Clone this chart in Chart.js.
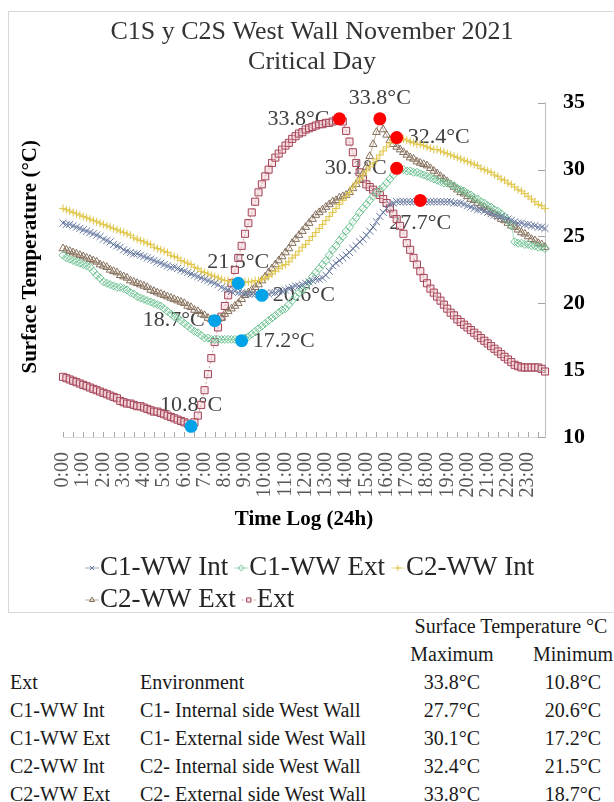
<!DOCTYPE html>
<html lang="en">
<head>
<meta charset="utf-8">
<title>C1S y C2S West Wall November 2021 - Critical Day</title>
<script src="https://cdn.jsdelivr.net/npm/chart.js@4.4.1/dist/chart.umd.min.js"></script>
<style>
  html, body { margin: 0; padding: 0; background: #fff; }
  body { position: relative; width: 614px; height: 802px; overflow: hidden; font-family: "Liberation Serif", "Times New Roman", serif; }
  #chartBox { position: absolute; left: 8px; top: 11px; width: 640px; height: 600px; border: 1px solid #d9d9d9; }
  #chart { display: block; }
  #summary { position: absolute; left: 10px; top: 612px; width: 622px; border-collapse: collapse; table-layout: fixed; font-size: 20px; color: #1a1a1a; }
  #summary td { padding: 0; height: 28px; line-height: 28px; white-space: nowrap; }
  #summary td.num { text-align: center; }
</style>
</head>
<body>
<div id="chartBox"><canvas id="chart" width="606" height="600"></canvas></div>
<table id="summary">
  <colgroup><col style="width:130px"><col style="width:250px"><col style="width:124px"><col style="width:118px"></colgroup>
  <thead>
    <tr><td></td><td></td><td class="num" colspan="2">Surface Temperature °C</td></tr>
    <tr><td></td><td></td><td class="num">Maximum</td><td class="num">Minimum</td></tr>
  </thead>
  <tbody id="summaryBody"></tbody>
</table>
<script>
// Time axis: one reading every 10 minutes, labels shown on the hour
const hourLabels = ['0:00','1:00','2:00','3:00','4:00','5:00','6:00','7:00','8:00','9:00','10:00','11:00',
                    '12:00','13:00','14:00','15:00','16:00','17:00','18:00','19:00','20:00','21:00','22:00','23:00'];
const minuteSteps = ['00','10','20','30','40','50'];

// Surface temperatures (°C), one row per hour
const c1Int = [
  26.0,25.9,25.9,25.8,25.7,25.6, 25.5,25.4,25.3,25.2,25.1,25.0, 24.8,24.7,24.6,24.4,24.3,24.2,
  24.0,23.9,23.8,23.7,23.7,23.6, 23.5,23.4,23.3,23.2,23.1,23.0, 22.9,22.8,22.7,22.7,22.6,22.5,
  22.4,22.3,22.2,22.1,22.0,21.9, 21.8,21.7,21.6,21.5,21.4,21.2, 21.1,21.0,20.9,20.9,20.8,20.8,
  20.7,20.7,20.7,20.7,20.7,20.6, 20.7,20.7,20.8,20.8,20.9,20.9, 21.0,21.1,21.2,21.3,21.3,21.4,
  21.5,21.6,21.7,21.8,21.8,21.9, 22.1,22.4,22.8,23.0,23.2,23.4, 23.6,23.8,24.1,24.3,24.6,24.8,
  25.1,25.4,25.7,26.1,26.5,26.8, 27.1,27.4,27.5,27.6,27.6,27.6, 27.6,27.6,27.6,27.6,27.7,27.6,
  27.6,27.6,27.6,27.6,27.6,27.6, 27.6,27.6,27.5,27.5,27.5,27.4, 27.3,27.2,27.1,27.0,27.0,26.9,
  26.8,26.7,26.6,26.5,26.5,26.4, 26.3,26.2,26.1,26.0,26.0,25.9, 25.9,25.8,25.8,25.7,25.7,25.6
];
const c1Ext = [
  23.6,23.4,23.3,23.2,23.1,23.0, 22.9,22.8,22.7,22.4,22.1,21.9, 21.6,21.5,21.4,21.3,21.2,21.2,
  21.1,21.0,20.8,20.7,20.5,20.4, 20.3,20.2,20.1,20.0,19.9,19.8, 19.6,19.4,19.2,19.0,18.9,18.7,
  18.5,18.3,18.1,17.9,17.8,17.6, 17.4,17.4,17.3,17.3,17.3,17.3, 17.3,17.3,17.3,17.3,17.3,17.2,
  17.4,17.5,17.7,17.9,18.1,18.3, 18.5,18.7,18.9,19.1,19.3,19.5, 19.6,19.9,20.2,20.5,20.8,21.0,
  21.3,21.6,22.0,22.3,22.6,22.9, 23.2,23.6,24.0,24.3,24.7,25.0, 25.4,25.7,26.1,26.4,26.8,27.1,
  27.4,27.7,28.0,28.3,28.5,28.7, 29.0,29.3,29.6,30.1,30.0,30.0, 29.9,29.9,29.8,29.8,29.7,29.6,
  29.5,29.4,29.3,29.2,29.1,29.0, 29.0,28.9,28.8,28.6,28.5,28.4, 28.2,28.1,27.9,27.8,27.6,27.5,
  27.3,27.2,27.0,26.9,26.7,26.5, 26.2,25.8,24.6,24.5,24.5,24.4, 24.4,24.3,24.3,24.2,24.2,24.1
];
const c2Int = [
  27.1,27.0,26.9,26.8,26.7,26.6, 26.5,26.4,26.3,26.2,26.1,26.0, 25.9,25.8,25.7,25.6,25.5,25.4,
  25.3,25.2,25.1,24.9,24.8,24.7, 24.6,24.5,24.4,24.2,24.1,24.0, 23.9,23.8,23.6,23.5,23.4,23.2,
  23.1,23.0,22.9,22.7,22.6,22.4, 22.3,22.2,22.1,22.0,21.9,21.8, 21.7,21.7,21.6,21.6,21.5,21.6,
  21.6,21.6,21.6,21.7,21.7,21.8, 21.9,22.0,22.2,22.4,22.6,22.8, 22.9,23.1,23.4,23.6,23.9,24.2,
  24.4,24.7,25.0,25.3,25.6,25.9, 26.2,26.5,26.8,27.1,27.4,27.7, 28.0,28.3,28.7,29.0,29.3,29.6,
  29.9,30.2,30.5,30.8,31.1,31.4, 31.7,32.0,32.2,32.4,32.3,32.3, 32.2,32.1,32.0,31.9,31.9,31.8,
  31.7,31.6,31.5,31.5,31.4,31.3, 31.2,31.1,31.0,30.9,30.8,30.7, 30.6,30.5,30.4,30.3,30.1,30.0,
  29.9,29.8,29.6,29.5,29.3,29.2, 29.0,28.9,28.7,28.5,28.4,28.2, 28.0,27.8,27.6,27.4,27.3,27.1
];
const c2Ext = [
  24.1,24.0,23.9,23.8,23.7,23.6, 23.5,23.4,23.3,23.2,23.1,22.9, 22.8,22.7,22.5,22.4,22.3,22.1,
  22.0,21.9,21.7,21.6,21.5,21.4, 21.3,21.2,21.0,20.9,20.8,20.7, 20.6,20.5,20.4,20.3,20.2,20.1,
  20.0,19.8,19.7,19.5,19.4,19.2, 19.1,18.9,18.8,18.7,18.8,18.9, 19.2,19.4,19.6,19.8,20.0,20.3,
  20.6,20.8,21.0,21.2,21.4,21.7, 22.0,22.3,22.6,22.9,23.2,23.5, 23.8,24.1,24.5,24.8,25.1,25.4,
  25.7,26.0,26.3,26.6,26.8,27.0, 27.2,27.4,27.6,27.7,27.9,28.0, 28.1,28.3,28.6,28.9,29.3,29.7,
  30.2,31.0,31.9,32.8,33.8,33.0, 32.6,32.2,31.9,31.7,31.5,31.3, 31.1,30.9,30.8,30.6,30.5,30.4,
  30.3,30.1,29.9,29.7,29.5,29.3, 29.1,28.9,28.7,28.5,28.3,28.2, 28.0,27.8,27.7,27.5,27.3,27.2,
  27.0,26.8,26.7,26.5,26.3,26.2, 26.0,25.8,25.7,25.5,25.3,25.2, 25.0,24.8,24.7,24.5,24.4,24.2
];
const extAir = [
  14.5,14.4,14.3,14.2,14.1,14.0, 13.9,13.8,13.7,13.6,13.5,13.4, 13.3,13.2,13.1,13.0,12.9,12.7,
  12.6,12.5,12.5,12.4,12.3,12.3, 12.2,12.1,12.0,11.9,11.9,11.8, 11.7,11.6,11.5,11.4,11.3,11.2,
  11.1,11.0,10.8,11.1,11.6,12.4, 13.5,14.7,15.9,17.1,18.2,19.0, 19.8,20.6,21.5,22.5,23.4,24.3,
  25.2,26.0,26.8,27.6,28.3,28.9, 29.5,30.0,30.5,30.9,31.2,31.5, 31.8,32.0,32.3,32.5,32.7,32.8,
  33.0,33.1,33.2,33.3,33.4,33.4, 33.5,33.5,33.6,33.7,33.8,33.6, 32.9,32.1,31.3,30.5,29.8,29.3,
  28.9,28.7,28.5,28.3,28.1,27.8, 27.5,27.1,26.7,26.3,25.8,25.2, 24.5,24.0,23.4,22.9,22.4,21.9,
  21.5,21.1,20.8,20.5,20.2,19.9, 19.6,19.3,19.1,18.8,18.6,18.4, 18.2,18.0,17.8,17.6,17.4,17.2,
  17.0,16.8,16.6,16.4,16.2,16.0, 15.8,15.6,15.4,15.3,15.2,15.2, 15.2,15.2,15.2,15.2,15.1,14.9
];

// Summary table text
const tableCodes = ['Ext', 'C1-WW Int', 'C1-WW Ext', 'C2-WW Int', 'C2-WW Ext'];
const tableNames = ['Environment', 'C1- Internal side West Wall', 'C1- External side West Wall',
                    'C2- Internal side West Wall', 'C2- External side West Wall'];
const tableSeries = [extAir, c1Int, c1Ext, c2Int, c2Ext];

// build the category labels (h:mm every 10 min)
var timeLabels = [];
hourLabels.forEach(function(h) {
    minuteSteps.forEach(function(m) { timeLabels.push(h.replace(':00', ':' + m)); });
});

var SERIF = '"Liberation Serif", "Times New Roman", serif';

function series(label, data, line, marker, fill, style, radius, maxSide, minSide) {
    return {
        label: label, data: data,
        borderColor: line, borderWidth: 1,
        pointStyle: style, pointRadius: radius, pointBorderWidth: 1,
        pointBorderColor: marker, pointBackgroundColor: fill,
        maxSide: maxSide, minSide: minSide
    };
}

var datasets = [
    series('C1-WW Int', c1Int, '#97a4c2', '#66789f', 'rgba(0,0,0,0)', 'crossRot', 5, 'below', 'right'),
    series('C1-WW Ext', c1Ext, '#a6dcbd', '#6cc291', 'rgba(255,255,255,0)', 'rectRot', 4, 'left', 'right'),
    series('C2-WW Int', c2Int, '#efe08e', '#e0c64a', 'rgba(0,0,0,0)', 'cross', 4, 'right', 'above'),
    series('C2-WW Ext', c2Ext, '#c0ab96', '#85705c', 'rgba(255,255,255,0)', 'triangle', 4.5, 'above', 'left'),
    series('Ext', extAir, '#d49aa3', '#a44457', 'rgba(240,200,205,0.45)', 'rect', 5, 'left', 'above')
];
datasets[4].borderDash = [2, 2];

// positions of the max / min of every series on the chart
function extremeSpots(chart) {
    var xs = chart.scales.x, ys = chart.scales.y, spots = [];
    chart.data.datasets.forEach(function(ds) {
        var hi = ds.data.indexOf(Math.max.apply(null, ds.data));
        var lo = ds.data.indexOf(Math.min.apply(null, ds.data));
        spots.push({ i: hi, v: ds.data[hi], color: '#ff0000', side: ds.maxSide });
        spots.push({ i: lo, v: ds.data[lo], color: '#00a2e8', side: ds.minSide });
    });
    spots.forEach(function(s) {
        s.x = xs.getPixelForValue(s.i);
        s.y = ys.getPixelForValue(s.v);
    });
    return spots;
}

var extremesPlugin = {
    id: 'extremes',
    // value labels go under the lines, the dots on top
    beforeDatasetsDraw: function(chart) {
        var ctx = chart.ctx;
        ctx.save();
        ctx.font = '22px ' + SERIF;
        ctx.fillStyle = '#404040';
        extremeSpots(chart).forEach(function(s) {
            var txt = s.v.toFixed(1) + '°C', tx = s.x, ty = s.y;
            ctx.textBaseline = 'middle';
            if (s.side === 'left') { ctx.textAlign = 'right'; tx -= 10; }
            else if (s.side === 'right') { ctx.textAlign = 'left'; tx += 11; }
            else if (s.side === 'above') { ctx.textAlign = 'center'; ty -= 21; }
            else { ctx.textAlign = 'center'; ty += 23; }
            ctx.fillText(txt, tx, ty);
        });
        ctx.restore();
    },
    afterDatasetsDraw: function(chart) {
        var ctx = chart.ctx;
        ctx.save();
        extremeSpots(chart).forEach(function(s) {
            ctx.beginPath();
            ctx.arc(s.x, s.y, 6.5, 0, Math.PI * 2);
            ctx.fillStyle = s.color;
            ctx.fill();
        });
        ctx.restore();
    }
};

// tick marks pointing into the plot, like the original
var innerTicksPlugin = {
    id: 'innerTicks',
    afterDraw: function(chart) {
        var ctx = chart.ctx, xs = chart.scales.x, ys = chart.scales.y, area = chart.chartArea;
        ctx.save();
        ctx.strokeStyle = '#a6a6a6';
        ctx.lineWidth = 1;
        ctx.beginPath();
        for (var i = 0; i < xs.ticks.length; i += 3) {
            var px = Math.round(xs.getPixelForTick(i)) + 0.5;
            ctx.moveTo(px, area.bottom);
            ctx.lineTo(px, area.bottom - 5);
        }
        ys.ticks.forEach(function(t, j) {
            var py = Math.round(ys.getPixelForTick(j)) + 0.5;
            ctx.moveTo(area.right, py);
            ctx.lineTo(area.right - 7, py);
        });
        ctx.stroke();
        ctx.restore();
    }
};

// Legend drawn by hand so that both rows start at the same left edge
var legendRows = [[0, 1, 2], [3, 4]];
var legendPlugin = {
    id: 'sideLegend',
    afterDraw: function(chart) {
        var ctx = chart.ctx;
        ctx.save();
        ctx.font = '27px ' + SERIF;
        ctx.textBaseline = 'middle';
        ctx.textAlign = 'left';
        legendRows.forEach(function(row, r) {
            var x = 76, y = 556 + r * 32;
            row.forEach(function(idx) {
                var ds = chart.data.datasets[idx];
                ctx.lineWidth = 1;
                ctx.setLineDash(ds.borderDash || []);
                ctx.strokeStyle = ds.borderColor;
                ctx.beginPath();
                ctx.moveTo(x, y); ctx.lineTo(x + 14, y);
                ctx.stroke();
                ctx.setLineDash([]);
                ctx.strokeStyle = ds.pointBorderColor;
                ctx.fillStyle = ds.pointBackgroundColor;
                Chart.helpers.drawPoint(ctx, { pointStyle: ds.pointStyle, radius: 3, rotation: 0, borderWidth: 1 }, x + 7, y);
                ctx.fillStyle = '#262626';
                ctx.fillText(ds.label, x + 15, y);
                x += 15 + ctx.measureText(ds.label).width + 6;
            });
        });
        ctx.restore();
    }
};

var chart = new Chart(document.getElementById('chart'), {
    type: 'line',
    data: { labels: timeLabels, datasets: datasets },
    options: {
        responsive: false,
        animation: false,
        layout: { padding: { left: 0, right: 0, top: 0, bottom: 80 } },
        plugins: {
            legend: { display: false },
            tooltip: { enabled: false },
            title: {
                display: true,
                text: ['C1S y C2S West Wall November 2021', 'Critical Day'],
                color: '#333',
                font: { family: SERIF, size: 26, weight: 'normal', lineHeight: 1.15 },
                padding: { top: 5, bottom: 26 }
            }
        },
        scales: {
            x: {
                ticks: {
                    autoSkip: false, maxRotation: 90, minRotation: 90, padding: 15,
                    color: '#595959', font: { family: SERIF, size: 20 },
                    callback: function(value, index) { return index % 6 === 0 ? this.getLabelForValue(value) : ''; }
                },
                grid: { drawOnChartArea: false, drawTicks: false },
                border: { color: '#d9d9d9' },
                title: { display: true, text: 'Time Log (24h)', color: '#000', padding: 0,
                         font: { family: SERIF, size: 21, weight: 'bold' } },
                afterFit: function(scale) { scale.height = 95; }
            },
            y: {
                position: 'right', min: 10, max: 35,
                ticks: { stepSize: 5, padding: 18, color: '#000', font: { family: SERIF, size: 22, weight: 'bold' } },
                grid: { display: false, drawTicks: false },
                border: { display: true, color: '#bfbfbf' },
                afterFit: function(scale) { scale.width = 70; }
            },
            yL: {
                position: 'left', min: 10, max: 35,
                ticks: { display: false },
                grid: { display: false, drawTicks: false },
                border: { display: false },
                title: { display: true, text: '     Surface Temperature (°C)', color: '#000', padding: { top: 9, bottom: 0 },
                         font: { family: SERIF, size: 21, weight: 'bold' } },
                afterFit: function(scale) { scale.width = 54; }
            }
        }
    },
    plugins: [extremesPlugin, innerTicksPlugin, legendPlugin]
});

// Summary table rows from the same series
var body = document.getElementById('summaryBody');
tableCodes.forEach(function(code, i) {
    var vals = tableSeries[i];
    var tr = document.createElement('tr');
    tr.innerHTML = '<td>' + code + '</td><td>' + tableNames[i] + '</td>' +
        '<td class="num">' + Math.max.apply(null, vals).toFixed(1) + '°C</td>' +
        '<td class="num">' + Math.min.apply(null, vals).toFixed(1) + '°C</td>';
    body.appendChild(tr);
});
</script>
</body>
</html>
